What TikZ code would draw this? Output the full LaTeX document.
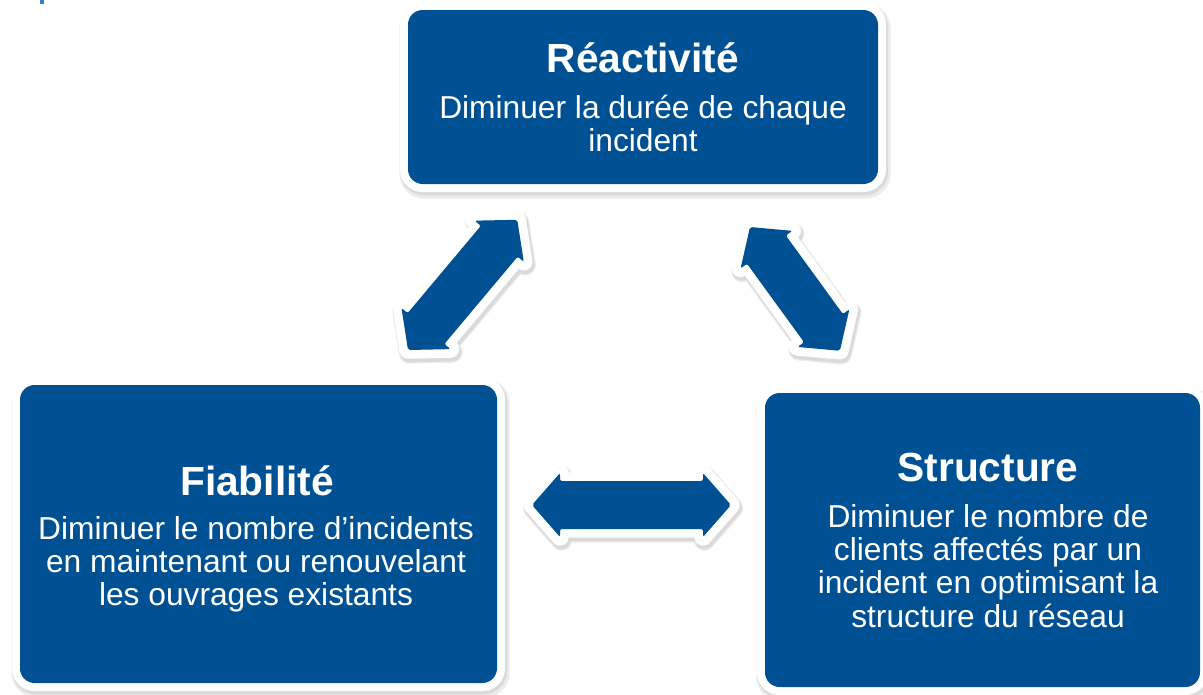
\documentclass[tikz,border=0pt]{standalone}
\usepackage{fontspec}
\setmainfont{Liberation Sans}
\definecolor{nblue}{RGB}{0,81,147}
\definecolor{markblue}{RGB}{45,130,205}
\definecolor{shade}{RGB}{218,218,218}
\definecolor{shadelight}{RGB}{236,236,236}

% double-headed block arrow lying on the x axis, from 0 to #1
\newcommand\arrowshape[1]{(0,0) -- (28,-32) -- (28,-24) -- (#1-28,-24) -- (#1-28,-32) -- (#1,0) -- (#1-28,32) -- (#1-28,24) -- (28,24) -- (28,32) -- cycle}

% #1 = first tip, #2 = direction angle, #3 = length
\newcommand\blockarrow[3]{%
  \begin{scope}[shift={#1}]
    \begin{scope}[shift={(1.5,3)}, rotate=#2]
      \path[arrshadowlight] \arrowshape{#3};
      \path[arrshadow] \arrowshape{#3};
    \end{scope}
    \begin{scope}[rotate=#2]
      \path[arrwhite] \arrowshape{#3};
      \path[arrblue] \arrowshape{#3};
    \end{scope}
  \end{scope}}

\begin{document}
\begin{tikzpicture}[x=0.75pt, y=-0.75pt,
  bluebox/.style={fill=nblue, draw=none, rounded corners=11pt, inner sep=0pt,
    preaction={draw=shadelight, line width=16pt, transform canvas={shift={(1.5pt,-3pt)}}},
    preaction={draw=shade, line width=13pt, transform canvas={shift={(1pt,-2pt)}}},
    preaction={draw=white, line width=12pt}},
  arrshadowlight/.style={draw=shadelight, fill=shadelight, line width=16pt, line join=round},
  arrshadow/.style={draw=shade, fill=shade, line width=14pt, line join=round},
  arrwhite/.style={draw=white, fill=white, line width=13pt, line join=round},
  arrblue/.style={fill=nblue, rounded corners=1.5pt},
  title/.style={text=white, anchor=base, inner sep=0pt, font=\fontsize{30.5}{36}\selectfont\bfseries},
  body/.style={text=white, anchor=base, inner sep=0pt, font=\fontsize{23.8}{25}\selectfont},
]
\useasboundingbox (0,0) rectangle (1203,694);

% small mark in the upper left corner
\fill[markblue] (40,0) rectangle (44,4);

% the three boxes
\node[bluebox, minimum width=352.5pt, minimum height=130.5pt] (reac) at (643,97) {};
\node[bluebox, minimum width=357.75pt, minimum height=223.5pt] (fiab) at (258.5,534) {};
\node[bluebox, minimum width=326.25pt, minimum height=220.5pt] (struc) at (982.5,540) {};

% double arrows between the boxes
\blockarrow{(408,350)}{50}{170}
\blockarrow{(750,227)}{-54}{153}
\blockarrow{(532,505)}{0}{199}

% texts
\node[title] (reacT) at (643,72) {Réactivité};
\node[body] (reacB) at (643,118) {\begin{tabular}[t]{@{}c@{}}Diminuer la durée de chaque\\incident\end{tabular}};

\node[title] (fiabT) at (257,495) {Fiabilité};
\node[body] (fiabB) at (256,539) {\begin{tabular}[t]{@{}c@{}}Diminuer le nombre d’incidents\\en maintenant ou renouvelant\\les ouvrages existants\end{tabular}};

\node[title] (strucT) at (988,481) {Structure};
\node[body] (strucB) at (988,527) {\begin{tabular}[t]{@{}c@{}}Diminuer le nombre de\\clients affectés par un\\incident en optimisant la\\structure du réseau\end{tabular}};
\end{tikzpicture}
\end{document}
